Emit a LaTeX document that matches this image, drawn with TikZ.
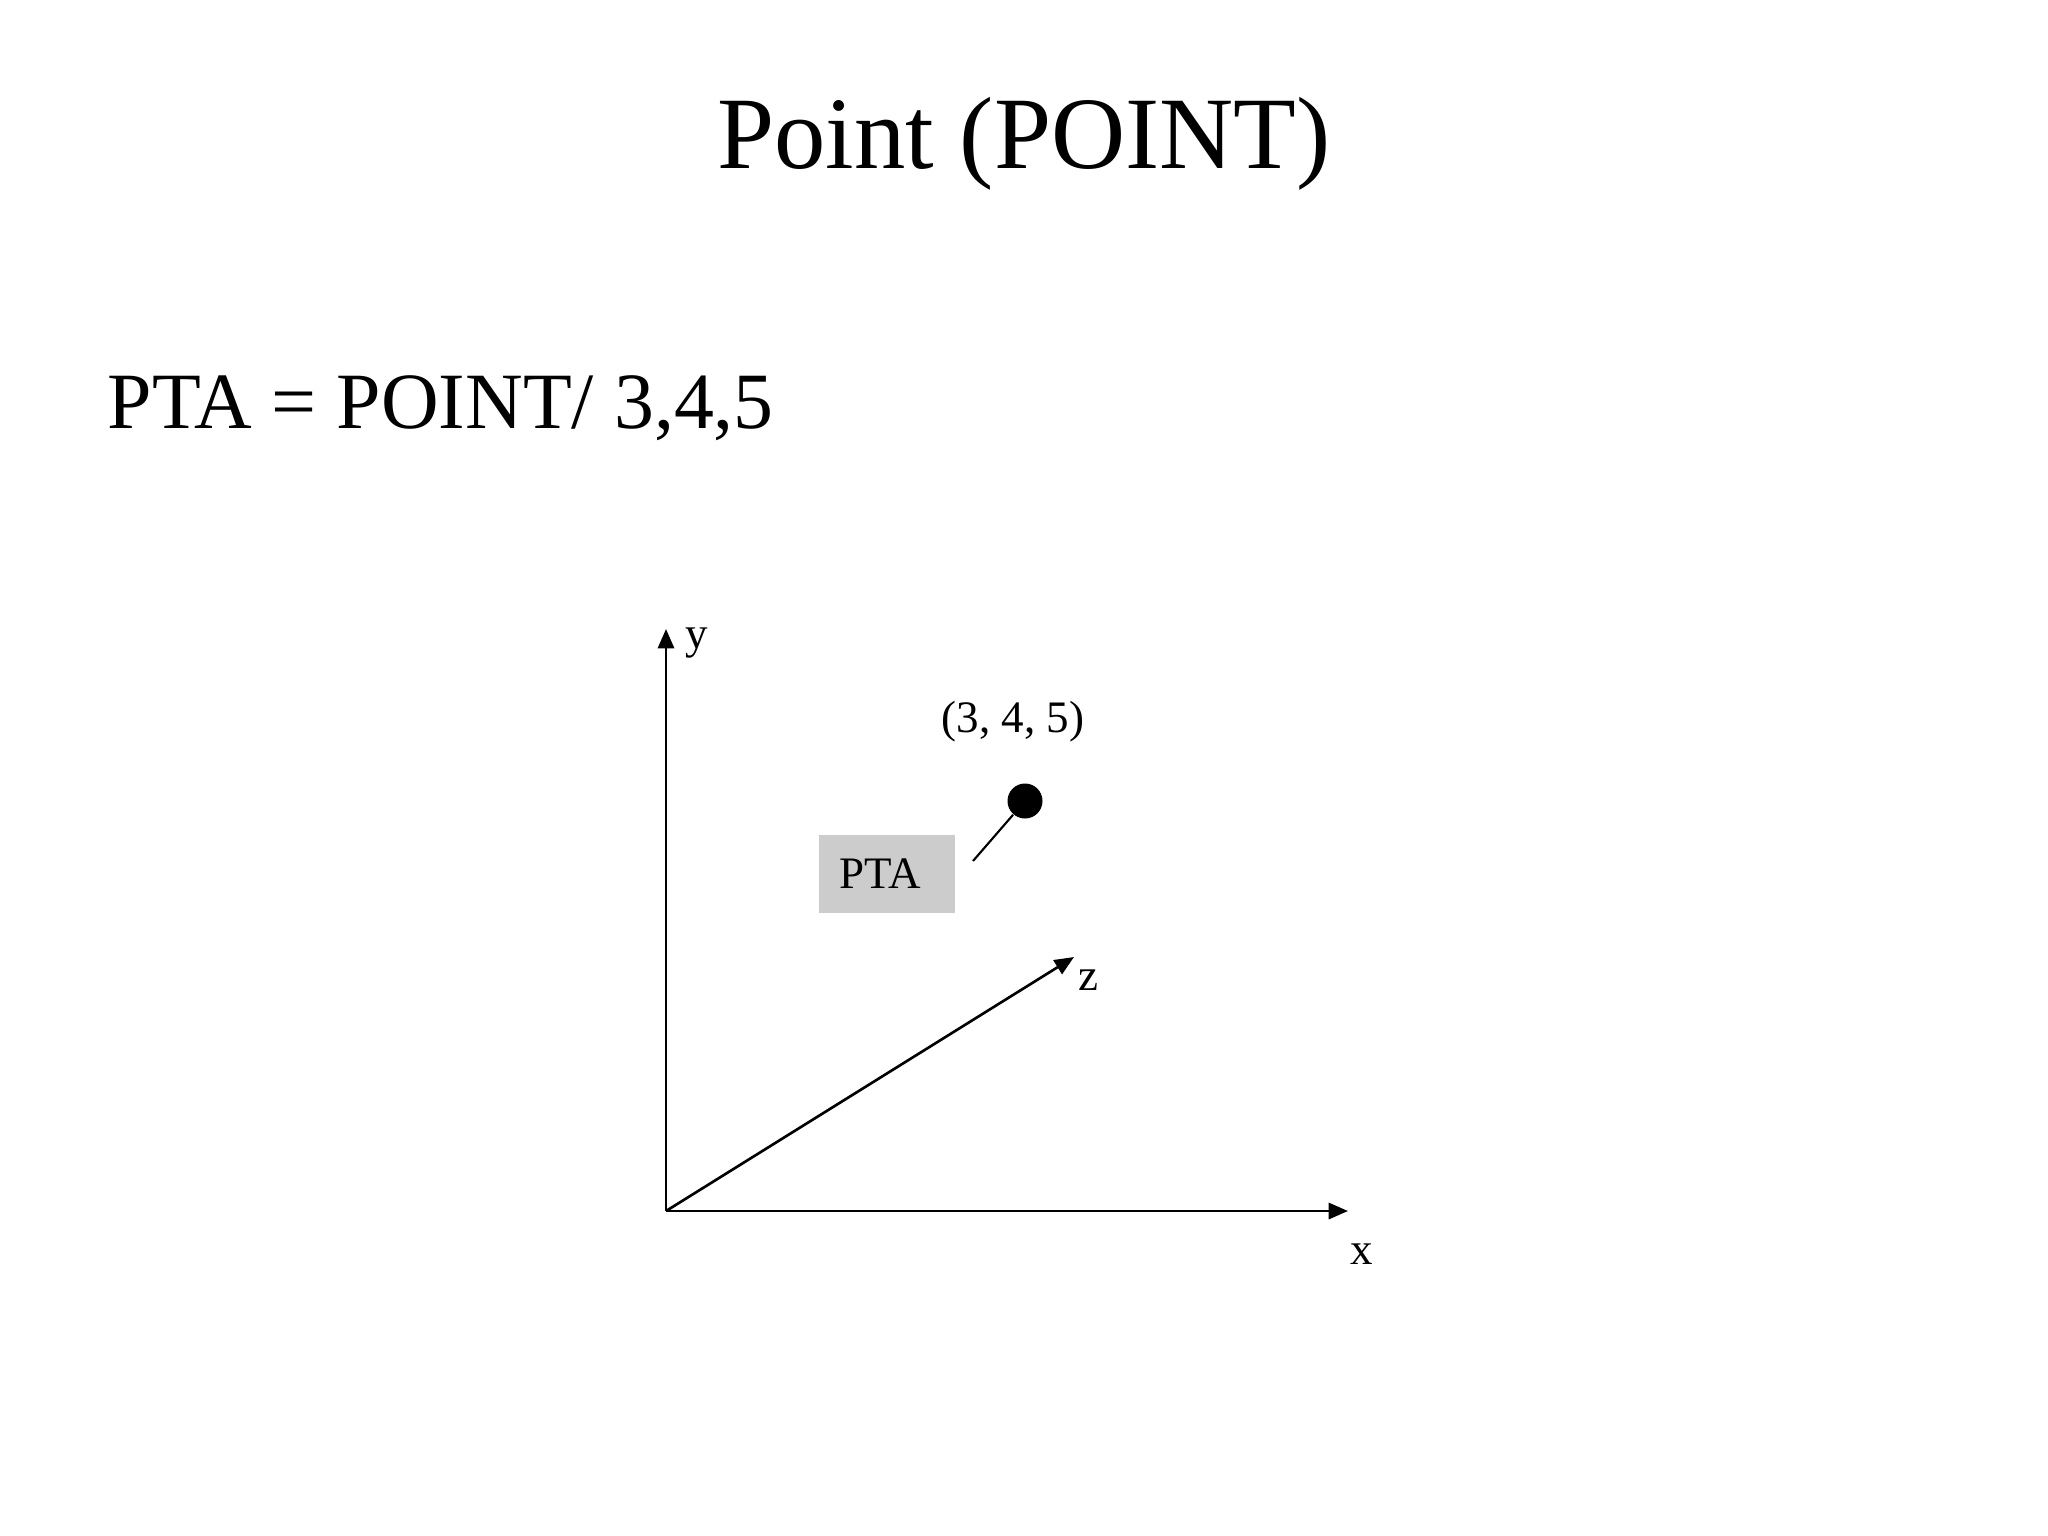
\documentclass[tikz,border=0pt]{standalone}
\usepackage{fontspec}
\setmainfont{Liberation Serif}
\usetikzlibrary{arrows.meta}

\begin{document}
\begin{tikzpicture}[x=0.01cm,y=-0.01cm,
  axis/.style={line width=0.75pt,-{Triangle[length=5.5pt,width=4.6pt]}},
  lbl/.style={font=\fontsize{12.8}{15}\selectfont,inner sep=0pt}]
\useasboundingbox (0,0) rectangle (2048,1536);
% title and command
\node (title) at (1024,144) {\fontsize{29.2}{35}\selectfont Point (POINT)};
\node[anchor=base west,inner sep=0pt] (cmd) at (107,428) {\fontsize{22.7}{27}\selectfont PTA = POINT/ 3,4,5};
% axes
\coordinate (O) at (666,1211);
\coordinate (ytip) at (666,629);
\coordinate (xtip) at (1348,1211);
\coordinate (ztip) at (1074,957);
\draw[axis] (O) -- (ytip);
\draw[axis] (O) -- (xtip);
\draw[axis] (O) -- (ztip);
\node[lbl] (ylbl) at (697,643) {y};
\node[lbl] (xlbl) at (1362,1254) {x};
\node[lbl] (zlbl) at (1088,980) {z};
% the point
\node[circle,fill,inner sep=0pt,minimum size=0.35cm] (dot) at (1025,801) {};
\node[lbl] (coords) at (1013,722) {(3, 4, 5)};
\node[lbl,fill=black!20,minimum width=1.36cm,minimum height=0.77cm] (pta) at (887,874) {PTA\kern0.13cm};
\coordinate (lead) at (973,861);
\draw[line width=0.6pt] (lead) -- (dot);
\end{tikzpicture}
\end{document}
